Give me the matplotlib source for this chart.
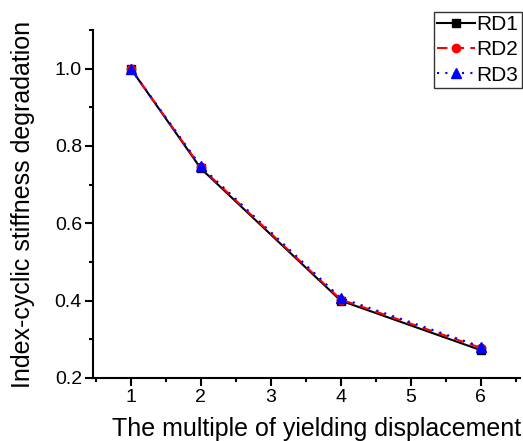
import numpy as np
import matplotlib
matplotlib.use('Agg')
import matplotlib.pyplot as plt
from matplotlib.ticker import MultipleLocator, FormatStrFormatter

plt.rcParams['font.family'] = ['Liberation Sans', 'DejaVu Sans']

x_vals = [1, 2, 4, 6]
rd1 = [1.0, 0.742, 0.400, 0.272]
rd2 = [1.0, 0.745, 0.403, 0.278]
rd3 = [1.0, 0.748, 0.407, 0.281]
series_names = ['RD1', 'RD2', 'RD3']

fig = plt.figure(figsize=(5.23, 4.41), dpi=100)
ax = fig.add_axes([93/523, 1-378/441, 427/523, 348/441])

ax.plot(x_vals, rd1, color='black', ls='-', marker='s', ms=6, lw=1.5, label=series_names[0])
ax.plot(x_vals, rd2, color='red', ls=(0, (5, 3)), marker='o', ms=6, lw=1.5, label=series_names[1])
ax.plot(x_vals, rd3, color='blue', ls=(0, (1, 3)), marker='^', ms=7, lw=1.5, label=series_names[2])

ax.set_xlim(0.46, 6.56)
ax.set_ylim(0.2, 1.1)
ax.xaxis.set_major_locator(MultipleLocator(1))
ax.xaxis.set_minor_locator(MultipleLocator(0.5))
ax.yaxis.set_minor_locator(MultipleLocator(0.1))
ax.set_yticks([0.2, 0.4, 0.6, 0.8, 1.0])
ax.yaxis.set_major_formatter(FormatStrFormatter('%.1f'))

for s in ['top', 'right']:
    ax.spines[s].set_visible(False)
for s in ['left', 'bottom']:
    ax.spines[s].set_linewidth(1.5)
ax.tick_params(which='major', direction='out', length=6, width=1.5, labelsize=14, pad=2)
ax.tick_params(which='minor', direction='out', length=3, width=1.5)

ax.set_xlabel('The multiple of yielding displacement', fontsize=18)
ax.set_ylabel('Index-cyclic stiffness degradation', fontsize=18)
ax.xaxis.set_label_coords(0.523, -0.113)
ax.yaxis.set_label_coords(-0.135, 0.5)

leg = ax.legend(loc='upper left', bbox_to_anchor=(434/523, 1-12/441), bbox_transform=fig.transFigure,
                fontsize=15, frameon=True, fancybox=False, borderpad=0.15, borderaxespad=0,
                handlelength=1.8, handletextpad=0.1, labelspacing=0.3)
leg.get_frame().set_edgecolor('black')
leg.get_frame().set_linewidth(1.0)

fig.savefig('out.png', dpi=100)
